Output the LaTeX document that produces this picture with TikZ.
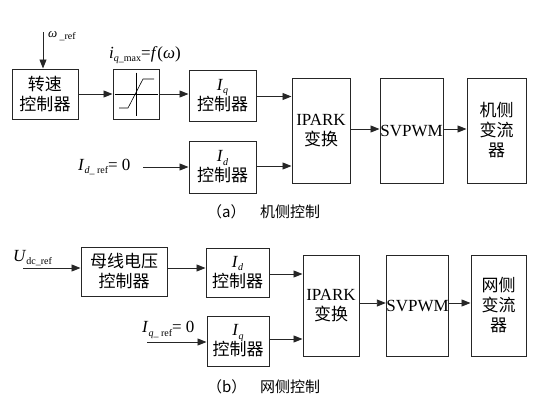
\documentclass[tikz,border=0pt]{standalone}
\usepackage{fontspec}
\setmainfont{Liberation Serif}
\newfontfamily\lat{Liberation Serif}
\newfontfamily\cjk{Noto Sans CJK SC}
\usetikzlibrary{arrows.meta}
\newcommand\lowsub[1]{\raisebox{-0.45ex}{\fontsize{10}{10}\selectfont #1}}
\begin{document}
\begin{tikzpicture}[x=1pt,y=-1pt,
  blk/.style={draw=black!85, line width=1pt, inner sep=0pt, align=center,
    font=\lat\fontsize{17}{20}\selectfont},
  arr/.style={-{Triangle[length=9pt,width=7pt]}, line width=0.9pt, draw=black!85},
  lbl/.style={inner sep=0pt, font=\lat\fontsize{17}{20}\selectfont},
  captxt/.style={inner sep=0pt, font=\cjk\fontsize{15}{18}\selectfont}]
\useasboundingbox (0,0) rectangle (551,407);
% ---------- (a) ----------
\node[blk, minimum width=66pt, minimum height=50pt] (speed) at (45,94) {{\cjk 转速}\\{\cjk 控制器}};
\node[blk, minimum width=46pt, minimum height=50pt] (sat) at (136,94) {};
\node[blk, minimum width=67pt, minimum height=51pt] (iqa) at (222.5,95.5) {\textit{I}\lowsub{\textit{q}}\\{\cjk 控制器}};
\node[blk, minimum width=67pt, minimum height=52pt] (ida) at (222.5,167) {\textit{I}\lowsub{\textit{d}}\\{\cjk 控制器}};
\node[blk, minimum width=58pt, minimum height=105pt] (iparka) at (321,130.5) {{\lat IPARK}\\{\cjk 变换}};
\node[blk, minimum width=63pt, minimum height=105pt] (svpwma) at (411.5,130.5) {{\lat SVPWM}};
\node[blk, minimum width=59pt, minimum height=105pt] (conva) at (496.5,130.5) {{\cjk 机侧}\\{\cjk 变流}\\{\cjk 器}};
% saturation symbol
\draw[line width=0.6pt] ([xshift=2pt]sat.west) -- ([xshift=-2pt]sat.east);
\draw[line width=0.6pt] ([yshift=-4pt]sat.north) -- ([yshift=4pt]sat.south);
\draw[line width=0.6pt] (119,108) -- (128,108) -- (143,79) -- (154,79);
% labels
\coordinate (wref) at (43,32);
\node[anchor=west, inner sep=0pt] (wlab) at (48,36) {\lat\fontsize{13}{13}\selectfont\textit{ω}\,\lowsub{\_ref}};
\node[lbl] (satlab) at (145,55) {\textit{i}\lowsub{\textit{q}\_max}=\textit{f}(\textit{ω})};
\node[lbl, anchor=west] (idref) at (78,167) {\textit{I}\lowsub{\textit{d}\_ ref}= 0};
\coordinate (idstart) at (143,167);
% arrows
\draw[arr] (wref) -- (wref |- speed.north);
\draw[arr] (speed.east) -- (sat.west);
\draw[arr] (sat.east) -- (sat.east -| iqa.west);
\draw[arr] ([yshift=-1pt]iqa.east) -- ([yshift=-1pt]iqa.east -| iparka.west);
\draw[arr] (idstart) -- (idstart -| ida.west);
\draw[arr] ([yshift=1pt]ida.east) -- ([yshift=1pt]ida.east -| iparka.west);
\draw[arr] ([yshift=1.5pt]iparka.east) -- ([yshift=1.5pt]iparka.east -| svpwma.west);
\draw[arr] ([yshift=1.5pt]svpwma.east) -- ([yshift=1.5pt]svpwma.east -| conva.west);
\node[captxt, anchor=west] (capa1) at (207,212) {（a）};
\node[captxt, anchor=west] (capa2) at (260,212) {机侧控制};
% ---------- (b) ----------
\node[blk, minimum width=86pt, minimum height=49pt] (bus) at (124,271.5) {{\cjk 母线电压}\\{\cjk 控制器}};
\node[blk, minimum width=63pt, minimum height=49pt] (idb) at (237.5,272.5) {\textit{I}\lowsub{\textit{d}}\\{\cjk 控制器}};
\node[blk, minimum width=62pt, minimum height=50pt] (iqb) at (238,341) {\textit{I}\lowsub{\textit{q}}\\{\cjk 控制器}};
\node[blk, minimum width=56pt, minimum height=101pt] (iparkb) at (331,305.5) {{\lat IPARK}\\{\cjk 变换}};
\node[blk, minimum width=61pt, minimum height=101pt] (svpwmb) at (417.5,305.5) {{\lat SVPWM}};
\node[blk, minimum width=55pt, minimum height=101pt] (convb) at (498.5,305.5) {{\cjk 网侧}\\{\cjk 变流}\\{\cjk 器}};
\node[lbl, anchor=west] (udclab) at (13,258) {\textit{U}\lowsub{dc\_ref}};
\coordinate (udc) at (23,268);
\node[lbl, anchor=west] (iqref) at (142,330) {\textit{I}\lowsub{\textit{q}\_ ref}= 0};
\coordinate (iqstart) at (147,342);
\draw[arr] (udc) -- (udc -| bus.west);
\draw[arr] (bus.east |- udc) -- (udc -| idb.west);
\draw[arr] ([yshift=-1.5pt]idb.east) -- ([yshift=-1.5pt]idb.east -| iparkb.west);
\draw[arr] (iqstart) -- (iqstart -| iqb.west);
\draw[arr] ([yshift=2pt]iqb.east) -- ([yshift=2pt]iqb.east -| iparkb.west);
\draw[arr] ([yshift=2.5pt]iparkb.east) -- ([yshift=2.5pt]iparkb.east -| svpwmb.west);
\draw[arr] ([yshift=2.5pt]svpwmb.east) -- ([yshift=2.5pt]svpwmb.east -| convb.west);
\node[captxt, anchor=west] (capb1) at (207,387) {（b）};
\node[captxt, anchor=west] (capb2) at (260,387) {网侧控制};
\end{tikzpicture}
\end{document}
